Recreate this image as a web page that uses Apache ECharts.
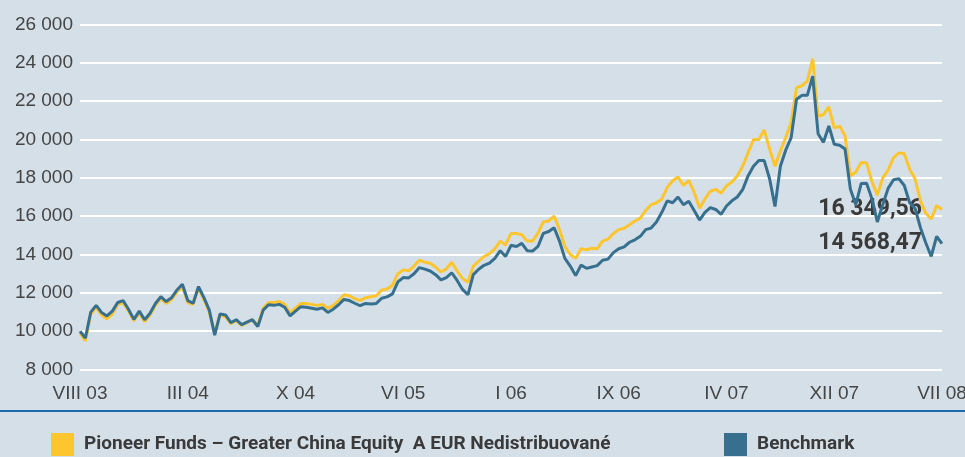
<!DOCTYPE html>
<html>
<head>
<meta charset="utf-8">
<script src="https://cdn.jsdelivr.net/npm/echarts@6/dist/echarts.min.js"></script>
<style>
html,body{margin:0;padding:0;background:#d4dfe7;}
#c{width:965px;height:457px;}
</style>
</head>
<body>
<div id="c"></div>
<script>
const xTickLabels = ['VIII 03','III 04','X 04','VI 05','I 06','IX 06','IV 07','XII 07','VII 08'];
const pointsPerTick = 20;

const fundName = 'Pioneer Funds – Greater China Equity  A EUR Nedistribuované';
const benchName = 'Benchmark';

const fundValues = [
9900,9500,10900,11250,10850,10650,10900,11400,11500,11050,
10550,10950,10500,10850,11350,11700,11450,11650,12050,12350,
11500,11400,12250,11650,11000,9900,10850,10750,10400,10550,
10300,10450,10600,10300,11200,11500,11500,11550,11400,10950,
11200,11450,11450,11400,11350,11400,11200,11350,11600,11900,
11850,11700,11600,11750,11800,11850,12150,12200,12400,13000,
13200,13150,13400,13700,13600,13550,13350,13100,13250,13600,
13150,12750,12550,13400,13650,13900,14050,14300,14700,14500,
15100,15100,15030,14700,14700,15120,15700,15750,16000,15300,
14420,14000,13800,14300,14250,14330,14300,14700,14800,15100,
15300,15370,15550,15750,15900,16300,16600,16700,16900,17500,
17850,18050,17600,17850,17250,16420,16900,17300,17400,17200,
17580,17780,18100,18600,19300,20000,20000,20500,19500,18600,
19400,20100,20900,22700,22800,23050,24200,21200,21300,21700,
20600,20700,20200,18100,18300,18800,18780,17800,17100,18000,
18400,19050,19300,19250,18450,17950,16800,16150,15850,16550,
16349.56
];

const benchValues = [
10000,9650,11000,11350,10980,10800,11050,11500,11600,11150,
10620,11050,10600,10940,11450,11800,11550,11750,12150,12450,
11600,11460,12330,11750,11100,9800,10900,10850,10450,10600,
10350,10480,10600,10250,11100,11380,11350,11400,11250,10800,
11050,11280,11250,11200,11150,11220,10980,11150,11380,11660,
11600,11460,11330,11450,11420,11450,11720,11790,11950,12570,
12800,12780,13000,13320,13240,13140,12950,12680,12800,13050,
12650,12180,11900,12950,13230,13440,13550,13800,14200,13900,
14480,14420,14580,14200,14180,14420,15100,15200,15400,14700,
13800,13400,12900,13450,13280,13350,13420,13700,13760,14100,
14300,14400,14640,14770,14950,15300,15380,15700,16200,16800,
16700,17000,16600,16780,16300,15800,16200,16450,16350,16100,
16530,16800,17000,17380,18100,18600,18900,18900,17950,16500,
18600,19450,20100,22100,22300,22300,23300,20300,19850,20700,
19750,19700,19500,17400,16600,17700,17720,16900,15700,16600,
17450,17900,17950,17600,16700,16400,15400,14600,13900,14940,
14568.47
];

const yMin = 8000, yMax = 26000, yStep = 2000;

const categories = fundValues.map((_, i) => i);

function fmtThousands(v) {
  return String(Math.round(v)).replace(/\B(?=(\d{3})+(?!\d))/g, ' ');
}
function fmtValue(v) {
  const parts = v.toFixed(2).split('.');
  return parts[0].replace(/\B(?=(\d{3})+(?!\d))/g, ' ') + ',' + parts[1];
}

const textColor = '#454545';
const darkText = '#3a3a3a';
const yellow = '#fdc52e';
const blue = '#36708e';
const boldFont = 'Roboto';
const endLabelStyle = {
  show: true,
  formatter: p => fmtValue(p.value),
  align: 'right',
  distance: -20,
  color: darkText,
  fontSize: 23,
  fontWeight: 'bold',
  fontFamily: boldFont
};
const legendText = {color: darkText, fontSize: 19, fontWeight: 'bold', fontFamily: boldFont, padding: [11, 0, 0, 5]};

const chart = echarts.init(document.getElementById('c'), null, {renderer: 'canvas'});
chart.setOption({
  animation: false,
  backgroundColor: '#d4dfe7',
  grid: {left: 80, right: 23, top: 24.4, bottom: 87.4, outerBoundsMode: 'none', containLabel: false},
  xAxis: {
    type: 'category',
    data: categories,
    boundaryGap: false,
    axisLine: {show: false},
    axisTick: {show: false},
    splitLine: {show: false},
    axisLabel: {
      interval: pointsPerTick - 1,
      margin: 15,
      color: textColor,
      fontSize: 19,
      fontFamily: 'Liberation Sans',
      formatter: (val, idx) => xTickLabels[Math.round(idx / pointsPerTick)] || ''
    }
  },
  yAxis: {
    type: 'value',
    min: yMin, max: yMax, interval: yStep,
    axisLine: {show: false},
    axisTick: {show: false},
    splitLine: {show: true, lineStyle: {color: '#ffffff', width: 2}},
    axisLabel: {
      margin: 7,
      color: textColor,
      fontSize: 19,
      fontFamily: 'Liberation Sans',
      formatter: v => fmtThousands(v)
    }
  },
  legend: [
    {
      data: [fundName], left: 46, top: 428, itemWidth: 23, itemHeight: 23,
      icon: 'rect', itemStyle: {borderWidth: 0},
      textStyle: legendText, selectedMode: false
    },
    {
      data: [benchName], left: 719, top: 428, itemWidth: 23, itemHeight: 23,
      icon: 'rect', itemStyle: {borderWidth: 0},
      textStyle: legendText, selectedMode: false
    }
  ],
  graphic: [
    {type: 'rect', left: 0, top: 410, shape: {width: 965, height: 2}, style: {fill: '#1f6aab'}, silent: true}
  ],
  series: [
    {
      name: fundName, type: 'line', data: fundValues, showSymbol: false,
      lineStyle: {color: yellow, width: 3}, itemStyle: {color: yellow},
      endLabel: endLabelStyle, z: 2
    },
    {
      name: benchName, type: 'line', data: benchValues, showSymbol: false,
      lineStyle: {color: blue, width: 3}, itemStyle: {color: blue},
      endLabel: endLabelStyle, z: 3
    }
  ]
});
</script>
</body>
</html>
